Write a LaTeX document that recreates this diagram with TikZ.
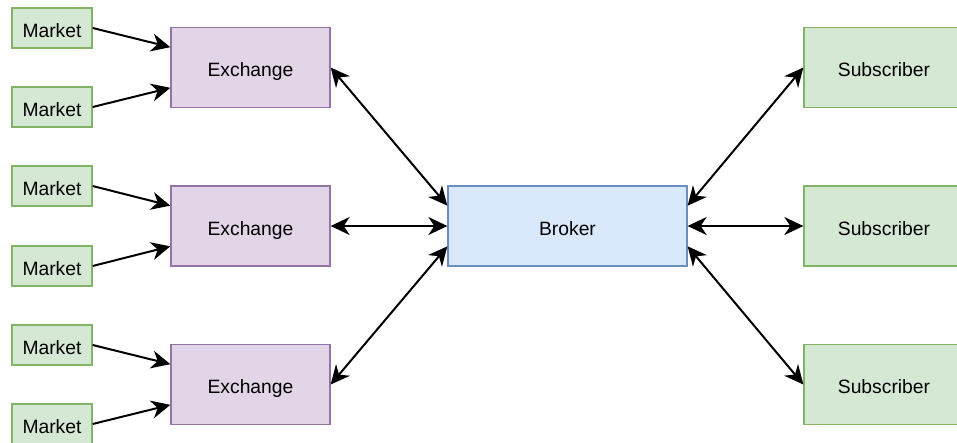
\documentclass[tikz,border=0pt]{standalone}
\usepackage{fontspec}
\setmainfont{Liberation Sans}
\usetikzlibrary{arrows.meta,calc}
\definecolor{mktfill}{HTML}{D5E8D4}
\definecolor{mktline}{HTML}{82B366}
\definecolor{exfill}{HTML}{E1D5E7}
\definecolor{exline}{HTML}{9673A6}
\definecolor{brfill}{HTML}{DAE8FC}
\definecolor{brline}{HTML}{6C8EBF}
\tikzset{
  box/.style={rectangle, line width=1.3pt, inner sep=0pt, text height=18pt, text depth=0pt,
    font=\fontsize{19.3}{23}\selectfont},
  market/.style={box, fill=mktfill, draw=mktline, minimum width=80pt, minimum height=40pt},
  exchange/.style={box, fill=exfill, draw=exline, minimum width=159pt, minimum height=80pt},
  broker/.style={box, fill=brfill, draw=brline, minimum width=239pt, minimum height=80pt},
  subscriber/.style={box, fill=mktfill, draw=mktline, minimum width=160pt, minimum height=80pt},
  link/.style={line width=2pt, -{Stealth[length=19pt 0,width=18pt 0,inset=6pt 0]}},
  duplex/.style={line width=2pt, {Stealth[length=19pt 0,width=18pt 0,inset=6pt 0]}-{Stealth[length=19pt 0,width=18pt 0,inset=6pt 0]}},
}
\begin{document}
\begin{tikzpicture}[x=1pt,y=-1pt]
\useasboundingbox (0,0) rectangle (957,442);
\clip (0,0) rectangle (957,442);

% markets
\node[market] (m1) at (52,28) {Market};
\node[market] (m2) at (52,107) {Market};
\node[market] (m3) at (52,186) {Market};
\node[market] (m4) at (52,266) {Market};
\node[market] (m5) at (52,345) {Market};
\node[market] (m6) at (52,424) {Market};

% exchanges
\node[exchange] (e1) at (250.5,67.5) {Exchange};
\node[exchange] (e2) at (250.5,226) {Exchange};
\node[exchange] (e3) at (250.5,384.5) {Exchange};

% broker
\node[broker] (b) at (567.5,226) {Broker};

% subscribers
\node[subscriber] (s1) at (884,67.5) {Subscriber};
\node[subscriber] (s2) at (884,226) {Subscriber};
\node[subscriber] (s3) at (884,384.5) {Subscriber};

% markets feed exchanges
\foreach \m/\e/\f in {m1/e1/0.25, m2/e1/0.75, m3/e2/0.25, m4/e2/0.75, m5/e3/0.25, m6/e3/0.75}
  \draw[link] (\m.east) -- ($(\e.north west)!\f!(\e.south west)$);

% exchanges <-> broker
\draw[duplex] (e1.east) -- ($(b.north west)!0.25!(b.south west)$);
\draw[duplex] (e2.east) -- (b.west);
\draw[duplex] (e3.east) -- ($(b.north west)!0.75!(b.south west)$);

% broker <-> subscribers
\draw[duplex] ($(b.north east)!0.25!(b.south east)$) -- (s1.west);
\draw[duplex] (b.east) -- (s2.west);
\draw[duplex] ($(b.north east)!0.75!(b.south east)$) -- (s3.west);
\end{tikzpicture}
\end{document}
